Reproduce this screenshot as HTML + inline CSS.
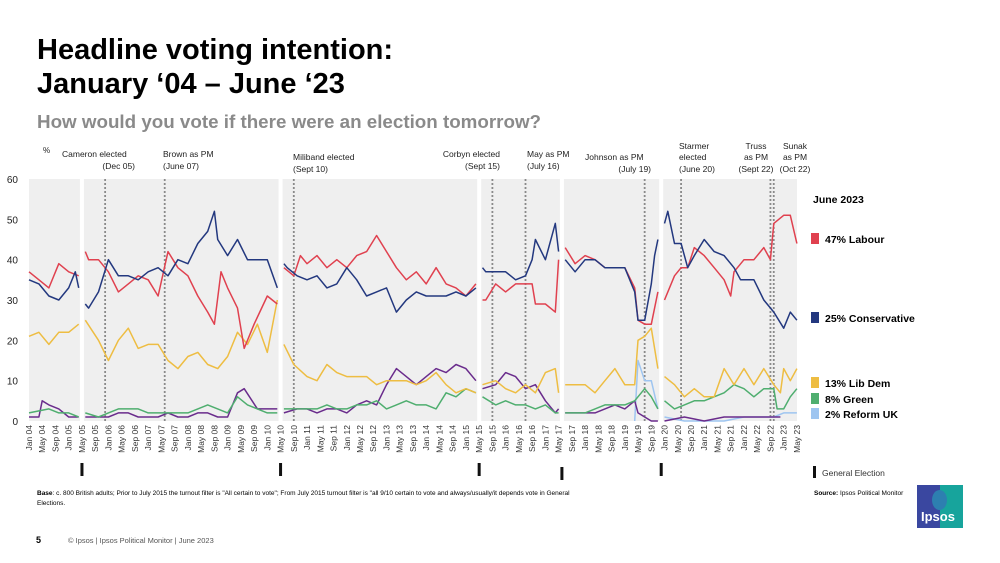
<!DOCTYPE html>
<html><head><meta charset="utf-8"><style>
body{margin:0;background:#fff;font-family:"Liberation Sans",sans-serif;}
#wrap{position:relative;width:1000px;height:563px;overflow:hidden;}
.t{position:absolute;white-space:nowrap;}
</style></head><body>
<div id="wrap">
<div class="t" style="left:37px;top:33px;font-size:29px;font-weight:bold;line-height:34px;color:#000;">Headline voting intention:<br>January ‘04 – June ‘23</div>
<div class="t" style="left:37px;top:111px;font-size:18.8px;font-weight:bold;color:#8a8a8a;">How would you vote if there were an election tomorrow?</div>
<svg id="chart" width="1000" height="563" style="position:absolute;left:0;top:0;font-family:'Liberation Sans',sans-serif;"></svg>
<div class="t" style="left:37px;top:489px;font-size:6.5px;line-height:10px;color:#000;"><b>Base</b>: c. 800 British adults; Prior to July 2015 the turnout filter is "All certain to vote"; From July 2015 turnout filter is "all  9/10 certain to vote and always/usually/it depends vote in General<br>Elections.</div>
<div class="t" style="left:36px;top:535px;font-size:9px;font-weight:bold;">5</div>
<div class="t" style="left:68px;top:536px;font-size:7.5px;color:#555;">© Ipsos | Ipsos Political Monitor | June 2023</div>
<div class="t" style="left:814px;top:490px;font-size:6.5px;color:#000;"><b>Source:</b> Ipsos Political Monitor</div>
<div style="position:absolute;left:917px;top:485px;width:46px;height:43px;background:linear-gradient(90deg,#3a47a0 50%,#17a49c 50%);">
<div style="position:absolute;left:15px;top:5px;width:15px;height:20px;border-radius:50%;background:#2d7fb0;"></div>
<div class="t" style="left:4px;top:24px;font-size:13px;font-weight:bold;color:#fff;">Ipsos</div></div>
</div>
<script>
const NS='http://www.w3.org/2000/svg';
const svg=document.getElementById('chart');
const yTicks=[0,10,20,30,40,50,60];
const xTickLabels=['Jan 04','May 04','Sep 04','Jan 05','May 05','Sep 05','Jan 06','May 06','Sep 06','Jan 07','May 07','Sep 07','Jan 08','May 08','Sep 08','Jan 09','May 09','Sep 09','Jan 10','May 10','Sep 10','Jan 11','May 11','Sep 11','Jan 12','May 12','Sep 12','Jan 13','May 13','Sep 13','Jan 14','May 14','Sep 14','Jan 15','May 15','Sep 15','Jan 16','May 16','Sep 16','Jan 17','May 17','Sep 17','Jan 18','May 18','Sep 18','Jan 19','May 19','Sep 19','Jan 20','May 20','Sep 20','Jan 21','May 21','Sep 21','Jan 22','May 22','Sep 22','Jan 23','May 23'];
const elections=['2005-05','2010-05','2015-05','2017-06','2019-12'];
const events=['2005-12','2007-06','2010-09','2015-09','2016-07','2019-07','2020-06','2022-09','2022-10'];
const conDates=['2004-01','2004-04','2004-07','2004-10','2005-01','2005-03','2005-04','2005-06','2005-07','2005-10','2006-01','2006-04','2006-07','2006-10','2007-01','2007-04','2007-07','2007-10','2008-01','2008-04','2008-07','2008-09','2008-10','2009-01','2009-04','2009-07','2009-10','2010-01','2010-04','2010-06','2010-07','2010-10','2011-01','2011-04','2011-07','2011-10','2012-01','2012-04','2012-07','2012-10','2013-01','2013-04','2013-07','2013-10','2014-01','2014-04','2014-07','2014-10','2015-01','2015-04','2015-06','2015-07','2015-10','2016-01','2016-04','2016-07','2016-09','2016-10','2017-01','2017-04','2017-05','2017-07','2017-10','2018-01','2018-04','2018-07','2018-10','2019-01','2019-04','2019-05','2019-07','2019-09','2019-10','2019-11','2020-01','2020-02','2020-04','2020-06','2020-08','2020-10','2021-01','2021-04','2021-07','2021-10','2021-12','2022-01','2022-04','2022-07','2022-10','2023-01','2023-03','2023-05'];
const conValues=[35,34,31,30,33,37,33,29,28,32,40,36,36,35,37,38,36,40,39,44,47,52,45,41,45,40,40,40,33,39,38,36,35,36,33,34,38,35,31,32,33,27,30,32,31,31,31,32,31,33,38,37,37,37,35,36,40,45,40,49,42,40,37,40,40,38,38,38,32,25,25,34,41,45,49,52,44,44,38,41,45,42,41,38,35,35,35,30,27,23,27,25];
const labDates=['2004-01','2004-04','2004-07','2004-10','2005-01','2005-04','2005-06','2005-07','2005-10','2006-01','2006-04','2006-07','2006-10','2007-01','2007-04','2007-07','2007-10','2008-01','2008-04','2008-07','2008-09','2008-11','2009-01','2009-04','2009-06','2009-09','2010-01','2010-04','2010-06','2010-09','2010-11','2011-01','2011-04','2011-07','2011-10','2012-01','2012-04','2012-07','2012-10','2013-01','2013-04','2013-07','2013-10','2014-01','2014-04','2014-07','2014-10','2015-01','2015-04','2015-06','2015-07','2015-10','2016-01','2016-04','2016-07','2016-09','2016-10','2017-01','2017-04','2017-05','2017-07','2017-10','2018-01','2018-04','2018-07','2018-10','2019-01','2019-04','2019-05','2019-07','2019-09','2019-11','2020-01','2020-04','2020-06','2020-08','2020-10','2021-01','2021-04','2021-07','2021-09','2021-10','2022-01','2022-04','2022-07','2022-09','2022-10','2023-01','2023-03','2023-05'];
const labValues=[37,35,33,39,37,36,42,40,40,37,32,34,36,35,31,42,38,36,31,27,24,37,33,28,18,24,31,29,38,36,41,39,41,38,40,38,41,42,46,42,38,35,37,34,38,34,33,31,34,30,30,34,32,34,34,34,29,29,27,40,43,39,41,40,38,38,38,33,25,24,24,32,30,36,38,38,43,41,38,35,31,37,40,40,43,40,49,51,51,44];
const ldDates=['2004-01','2004-04','2004-07','2004-10','2005-01','2005-04','2005-06','2005-10','2006-01','2006-04','2006-07','2006-10','2007-01','2007-04','2007-07','2007-10','2008-01','2008-04','2008-07','2008-10','2009-01','2009-04','2009-07','2009-10','2010-01','2010-04','2010-06','2010-09','2011-01','2011-04','2011-07','2011-10','2012-01','2012-04','2012-07','2012-10','2013-01','2013-04','2013-07','2013-10','2014-01','2014-04','2014-07','2014-10','2015-01','2015-04','2015-06','2015-10','2016-01','2016-04','2016-07','2016-10','2017-01','2017-04','2017-05','2017-07','2017-10','2018-01','2018-04','2018-07','2018-10','2019-01','2019-04','2019-05','2019-07','2019-09','2019-11','2020-01','2020-04','2020-07','2020-10','2021-01','2021-04','2021-07','2021-10','2022-01','2022-04','2022-07','2022-10','2022-12','2023-01','2023-03','2023-05'];
const ldValues=[21,22,19,22,22,24,25,20,15,20,23,18,19,19,15,13,16,17,14,13,16,22,19,24,17,30,19,14,11,10,14,12,11,11,11,9,10,10,10,9,10,12,9,7,8,7,9,10,8,7,9,7,12,13,7,9,9,9,7,10,13,9,9,20,21,23,13,11,9,6,8,6,6,13,9,13,9,13,9,7,13,10,13];
const grnDates=['2004-01','2004-07','2004-10','2005-01','2005-04','2005-06','2005-10','2006-01','2006-04','2006-07','2006-10','2007-01','2007-04','2007-07','2007-10','2008-01','2008-04','2008-07','2008-10','2009-01','2009-04','2009-07','2009-10','2010-01','2010-04','2010-06','2010-10','2011-01','2011-04','2011-07','2011-10','2012-01','2012-04','2012-07','2012-10','2013-01','2013-04','2013-07','2013-10','2014-01','2014-04','2014-07','2014-10','2015-01','2015-04','2015-06','2015-10','2016-01','2016-04','2016-07','2016-10','2017-01','2017-04','2017-05','2017-07','2017-10','2018-01','2018-04','2018-07','2018-10','2019-01','2019-04','2019-07','2019-09','2019-11','2020-01','2020-04','2020-07','2020-10','2021-01','2021-04','2021-07','2021-10','2022-01','2022-04','2022-07','2022-10','2022-11','2023-01','2023-03','2023-05'];
const grnValues=[2,3,2,2,1,2,1,2,3,3,3,2,2,2,2,2,3,4,3,2,6,4,3,2,2,3,3,3,3,4,3,3,4,4,5,3,4,5,4,4,3,7,6,8,7,6,4,5,4,4,3,4,2,2,2,2,2,3,4,4,4,5,8,6,3,5,3,4,5,5,6,7,9,8,6,8,8,3,3,6,8];
const ukipDates=['2004-01','2004-04','2004-05','2004-07','2004-10','2005-01','2005-04','2005-06','2005-10','2006-01','2006-04','2006-07','2006-10','2007-01','2007-04','2007-07','2007-10','2008-01','2008-04','2008-07','2008-10','2009-01','2009-04','2009-06','2009-10','2010-01','2010-04','2010-06','2010-10','2011-01','2011-04','2011-07','2011-10','2012-01','2012-04','2012-07','2012-10','2013-01','2013-04','2013-07','2013-10','2014-01','2014-04','2014-07','2014-10','2015-01','2015-04','2015-06','2015-10','2016-01','2016-04','2016-07','2016-10','2017-01','2017-04','2017-05','2017-07','2017-10','2018-01','2018-04','2018-07','2018-10','2019-01','2019-04','2019-05','2019-07','2019-09','2019-11','2020-01','2020-07','2021-01','2021-07','2022-01','2022-07','2022-12'];
const ukipValues=[1,1,5,4,3,1,1,1,1,1,2,2,1,1,1,2,1,1,2,2,1,1,7,8,3,3,3,2,3,3,2,3,3,2,4,5,4,9,13,11,9,11,13,12,14,13,10,8,9,12,11,8,9,5,2,3,2,2,2,2,3,4,3,5,2,1,0,0,0,1,0,1,1,1,1];
const refDates=['2019-04','2019-05','2019-07','2019-09','2019-11','2020-01','2020-07','2021-01','2021-07','2022-01','2022-07','2022-10','2023-01','2023-03','2023-05'];
const refValues=[0,15,10,10,3,1,0,0,0,1,1,1,2,2,2];

const X0=29, PXM=3.31, Y0=421, PXU=242/60;
const mIdx=s=>{const[a,b]=s.split('-').map(Number);return (a-2004)*12+(b-1);};
const xs=s=>X0+mIdx(s)*PXM;
const ys=v=>Y0-v*PXU;
function el(tag,attrs,txt){const e=document.createElementNS(NS,tag);for(const k in attrs)e.setAttribute(k,attrs[k]);if(txt!=null)e.textContent=txt;svg.appendChild(e);return e;}

const plotL=29, plotR=797;
const bounds=[plotL].concat(elections.map(xs)).concat([plotR]);
for(let i=0;i<bounds.length-1;i++){
  const a=bounds[i]+(i?2:0), b=bounds[i+1]-(i<bounds.length-2?2:0);
  const r=el('rect',{x:a,y:179,width:b-a,height:242,fill:'#efefef'});
  
  
}
yTicks.forEach(v=>{const t=el('text',{x:18,y:ys(v)+4,'font-size':10,'text-anchor':'end',fill:'#222'},v);
});
const pc=el('text',{x:43,y:153,'font-size':8,fill:'#222'},'%');

xTickLabels.forEach((lab,i)=>{const x=X0+i*4*PXM+3;
const t=el('text',{x:x,y:425,'font-size':8.5,fill:'#333','text-anchor':'end',transform:`rotate(-90 ${x} 425)`},lab);
});
events.forEach(d=>{const l=el('line',{x1:xs(d),x2:xs(d),y1:179,y2:421,stroke:'#8a8a8a','stroke-width':1.8,'stroke-dasharray':'2,2'});
});
elections.forEach((d,i)=>{const dy=(i===3)?4:0;const r=el('rect',{x:xs(d)-1.5,y:463+dy,width:3,height:13,fill:'#111'});
});
const eM=elections.map(mIdx);
function series(dates,vals,color,name,w){
  let segs=[],cur=[];
  dates.forEach((d,i)=>{const m=mIdx(d);
    if(cur.length){const pm=cur[cur.length-1].m;if(eM.some(e=>e>pm&&e<=m)){segs.push(cur);cur=[];}}
    cur.push({m,x:xs(d),y:ys(vals[i])});});
  segs.push(cur);
  segs.forEach(s=>{const p=el('polyline',{points:s.map(q=>q.x.toFixed(1)+','+q.y.toFixed(1)).join(' '),fill:'none',stroke:color,'stroke-width':w||1.5,'stroke-linejoin':'round'});
  });
}
series(refDates,refValues,'#9ec5f0','reform-line');
series(ukipDates,ukipValues,'#6a2c8c','ukip-line');
series(grnDates,grnValues,'#4fae6f','green-line');
series(ldDates,ldValues,'#eebd42','libdem-line');
series(labDates,labValues,'#e0414f','labour-line');
series(conDates,conValues,'#23387f','conservative-line');
const ann=[[62,157,'Cameron elected','start'],[135,169,'(Dec 05)','end'],[163,157,'Brown as PM','start'],[163,169,'(June 07)','start'],[293,160,'Miliband elected','start'],[293,172,'(Sept 10)','start'],[500,157,'Corbyn elected','end'],[500,169,'(Sept 15)','end'],[527,157,'May  as PM','start'],[527,169,'(July 16)','start'],[585,160,'Johnson as PM','start'],[651,172,'(July 19)','end'],[679,149,'Starmer','start'],[679,160,'elected','start'],[679,172,'(June 20)','start'],[756,149,'Truss','middle'],[756,160,'as PM','middle'],[756,172,'(Sept 22)','middle'],[795,149,'Sunak','middle'],[795,160,'as PM','middle'],[795,172,'(Oct 22)','middle']];
ann.forEach(a=>{const t=el('text',{x:a[0],y:a[1],'font-size':8.5,fill:'#222','text-anchor':a[3]},a[2]);
});
const lh=el('text',{x:813,y:203,'font-size':10.5,'font-weight':'bold',fill:'#000'},'June 2023');

[[239,'#e0414f','47% Labour'],[318,'#23387f','25% Conservative'],[383,'#eebd42','13% Lib Dem'],[399,'#4fae6f','8% Green'],[414,'#9ec5f0','2% Reform UK']].forEach(l=>{
const r=el('rect',{x:811,y:l[0]-6,width:8,height:11,fill:l[1]});

const t=el('text',{x:825,y:l[0]+4,'font-size':10.5,'font-weight':'bold',fill:'#000'},l[2]);
});
const gm=el('rect',{x:813,y:466,width:3,height:12,fill:'#111'});

const gt=el('text',{x:822,y:476,'font-size':8.5,fill:'#333'},'General Election');

</script>
</body></html>
